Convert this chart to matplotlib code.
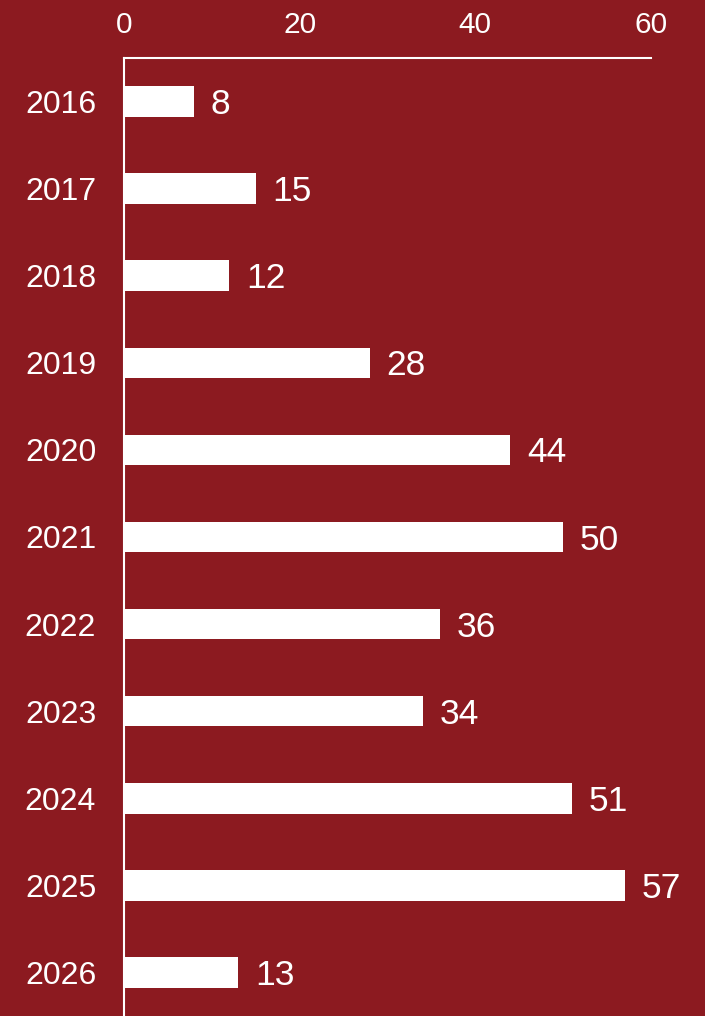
import matplotlib
matplotlib.use("Agg")
import matplotlib.pyplot as plt

years = ["2016", "2017", "2018", "2019", "2020", "2021", "2022", "2023", "2024", "2025", "2026"]
values = [8, 15, 12, 28, 44, 50, 36, 34, 51, 57, 13]
xticks = [0, 20, 40, 60]

BG = "#8C1A20"
plt.rcParams['font.family'] = ['Liberation Sans', 'DejaVu Sans']

fig = plt.figure(figsize=(7.05, 10.16), dpi=100, facecolor=BG)
W, H = 705, 1016
ax = fig.add_axes([124 / W, 0, (651 - 124) / W, (H - 58) / H])
ax.set_facecolor(BG)

ypos = list(range(len(years)))
ax.barh(ypos, values, height=0.35, color="white")
for y, v in zip(ypos, values):
    ax.annotate(str(v), (v, y), xytext=(12, -9), textcoords="offset points",
                va="baseline", ha="left", color="white", fontsize=25.5)

ax.set_xlim(0, 60)
ax.set_ylim(len(years) - 0.5, -0.5)
ax.set_yticks(ypos)
ax.set_yticklabels(years)
ax.set_xticks(xticks)
ax.set_xticklabels([str(t) for t in xticks])
ax.xaxis.tick_top()
ax.tick_params(axis="x", length=0, pad=14, labelsize=21.5, colors="white")
ax.tick_params(axis="y", length=0, pad=20, labelsize=23, colors="white")

for s in ["right", "bottom"]:
    ax.spines[s].set_visible(False)
for s in ["top", "left"]:
    ax.spines[s].set_color("white")
    ax.spines[s].set_linewidth(1.5)

fig.savefig("out.png", dpi=100, facecolor=BG)
